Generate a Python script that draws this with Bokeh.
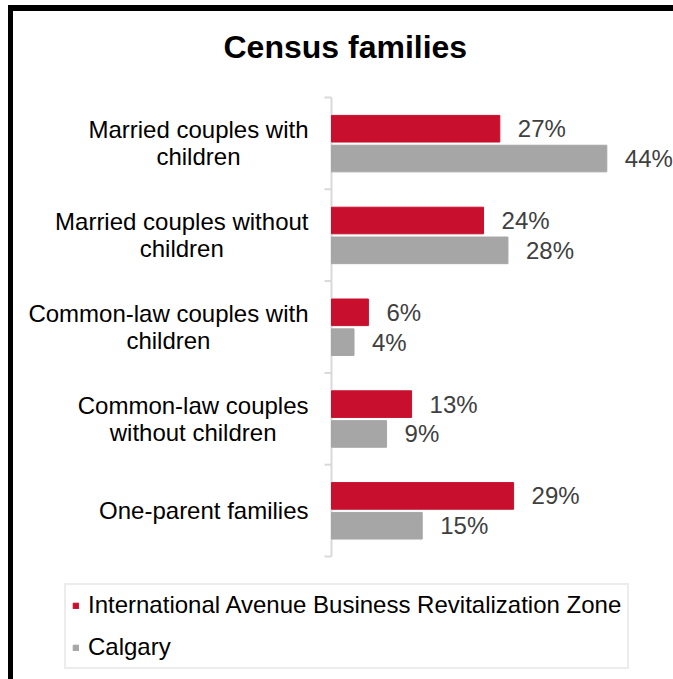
from bokeh.plotting import figure
from bokeh.models import ColumnDataSource, Range1d, Legend, LegendItem
from bokeh.transform import dodge
from bokeh.embed import file_html
from bokeh.resources import INLINE
from bokeh.core.properties import value

title_text = "Census families"
categories = ["Married couples with\nchildren", "Married couples without\nchildren",
              "Common-law couples with\nchildren", "Common-law couples\nwithout children",
              "One-parent families"]
zone = [26.9, 24.3, 5.9, 12.8, 29.1]
calgary = [44.0, 28.2, 3.6, 8.8, 14.5]
zone_labels = ["27%", "24%", "6%", "13%", "29%"]
calgary_labels = ["44%", "28%", "4%", "9%", "15%"]
series_names = ["International Avenue Business Revitalization Zone", "Calgary"]

RED = "#C8102E"
GRAY = "#A6A6A6"
AXIS = "#D9D9D9"
FONT = "Liberation Sans"

n = len(categories)
slot = [n - i - 0.5 for i in range(n)]      # category slots, first category on top
boundaries = list(range(n + 1))

# canvas geometry (pixels) -> ranges
W, H = 665, 674
PX_PER_PCT = 6.257
PX_PER_SLOT = 91.8
ORIGIN_X = 318      # where 0 % sits
ORIGIN_Y = 545      # bottom of the category area
TICK = 7 / PX_PER_PCT

src = ColumnDataSource(dict(slot=slot, cat=categories, zone=zone, calgary=calgary,
                            zl=zone_labels, cl=calgary_labels))
bsrc = ColumnDataSource(dict(b=boundaries, z=[0] * len(boundaries)))

p = figure(width=W, height=H, output_backend="svg", toolbar_location=None,
           x_range=Range1d(-ORIGIN_X / PX_PER_PCT, (W - ORIGIN_X) / PX_PER_PCT),
           y_range=Range1d(-(H - ORIGIN_Y) / PX_PER_SLOT, ORIGIN_Y / PX_PER_SLOT),
           x_axis_location=None, y_axis_location=None,
           min_border_left=0, min_border_right=0, min_border_top=0, min_border_bottom=0)
p.outline_line_color = None
p.grid.visible = False
p.background_fill_color = "white"
p.border_fill_color = "white"
# chart frame: thick black left and top edges
p.styles = {"margin-left": "8px", "margin-top": "5px",
            "border-left": "5px solid black", "border-top": "6px solid black"}

# category axis: line and boundary ticks
p.segment(x0=[0], y0=[boundaries[0]], x1=[0], y1=[boundaries[-1]],
          line_color=AXIS, line_width=2)
p.segment(x0=dodge("z", -TICK), y0="b", x1="z", y1="b", source=bsrc,
          line_color=AXIS, line_width=2)

# category labels
p.text(x=0, y="slot", text="cat", source=src, x_offset=-23,
       anchor="center_right", text_align="center", text_baseline="middle",
       text_line_height=1.0,
       text_font=value(FONT), text_font_size="24px", text_color="#000000")

r_zone = p.hbar(y=dodge("slot", 0.16), left=0, right="zone", height=0.29,
                source=src, fill_color=RED, line_color=RED)
r_cal = p.hbar(y=dodge("slot", -0.165), left=0, right="calgary", height=0.29,
               source=src, fill_color=GRAY, line_color=GRAY)

p.text(x="zone", y=dodge("slot", 0.16), text="zl", source=src,
       x_offset=18, text_baseline="middle", text_align="left",
       text_font=value(FONT), text_font_size="24px", text_color="#404040")
p.text(x="calgary", y=dodge("slot", -0.165), text="cl", source=src,
       x_offset=18, text_baseline="middle", text_align="left",
       text_font=value(FONT), text_font_size="24px", text_color="#404040")

# title
p.text(x=[0], y=[boundaries[-1]], text=[title_text], x_offset=-108, y_offset=-51,
       text_align="left", text_baseline="middle",
       text_font=value(FONT), text_font_style="bold", text_font_size="32px",
       text_color="#000000")

legend = Legend(items=[LegendItem(label=series_names[0], renderers=[r_zone]),
                       LegendItem(label=series_names[1], renderers=[r_cal])],
                location=(51, 16), orientation="vertical",
                label_text_font=FONT, label_text_font_size="24px", label_text_color="#000000",
                glyph_width=7, glyph_height=7, label_standoff=9, label_height=28,
                spacing=14, padding=6, margin=0,
                border_line_color=AXIS, border_line_width=2,
                background_fill_color="white", background_fill_alpha=1)
p.add_layout(legend, "center")

open("out.html", "w").write(file_html(p, INLINE))
